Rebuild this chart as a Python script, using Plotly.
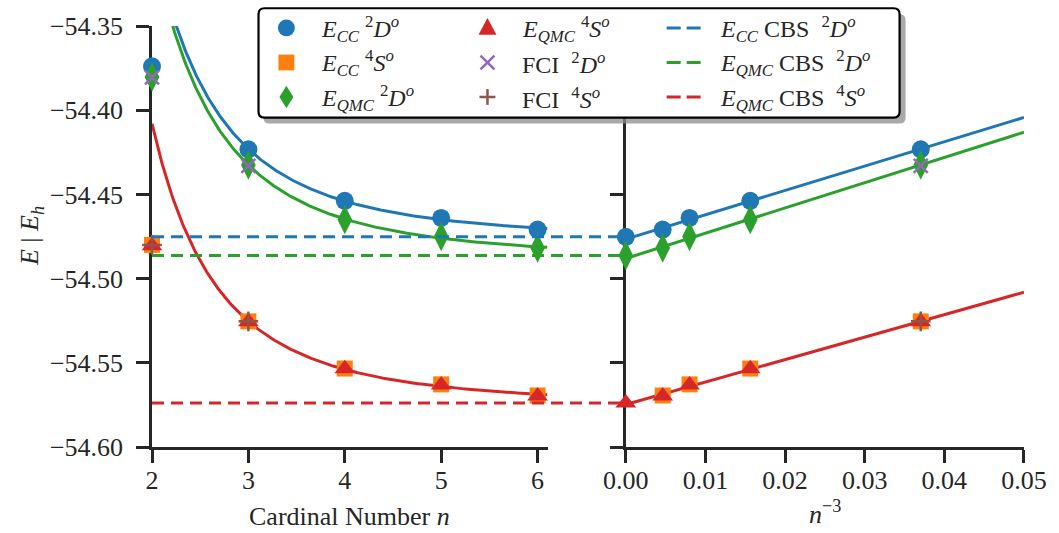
import numpy as np
import plotly.graph_objects as go

# ---------------- data ----------------
n_vals = [2, 3, 4, 5, 6]
e_cc_2d = [-54.3739, -54.4232, -54.4538, -54.4640, -54.4709]
e_cc_4s = [-54.4800, -54.5254, -54.5534, -54.5628, -54.5694]
e_qmc_2d = [-54.3803, -54.4325, -54.4650, -54.4750, -54.4818]
e_qmc_4s = [-54.4805, -54.5256, -54.5535, -54.5632, -54.5697]
fci_n = [2, 3]
fci_2d = [-54.3805, -54.4331]
fci_4s = [-54.4800, -54.5254]
cbs_cc_2d = -54.4752
cbs_qmc_2d = -54.4863
cbs_qmc_4s = -54.5738

y_tickvals = [-54.60, -54.55, -54.50, -54.45, -54.40, -54.35]
y_ticktext = ["−54.60", "−54.55", "−54.50", "−54.45", "−54.40", "−54.35"]
xl_tickvals = [2, 3, 4, 5, 6]
xr_tickvals = [0.00, 0.01, 0.02, 0.03, 0.04, 0.05]
xr_ticktext = ["0.00", "0.01", "0.02", "0.03", "0.04", "0.05"]

BLUE, ORANGE, GREEN, RED, PURPLE, BROWN = "#1f77b4", "#ff7f0e", "#2ca02c", "#d62728", "#9467bd", "#8c564b"
INK = "#262626"
FONT = "Liberation Serif"

lbl_cc_2d = "<i>E</i><sub><i>CC</i></sub> <sup>2</sup><i>D</i><sup><i>o</i></sup>"
lbl_cc_4s = "<i>E</i><sub><i>CC</i></sub> <sup>4</sup><i>S</i><sup><i>o</i></sup>"
lbl_qmc_2d = "<i>E</i><sub><i>QMC</i></sub> <sup>2</sup><i>D</i><sup><i>o</i></sup>"
lbl_qmc_4s = "<i>E</i><sub><i>QMC</i></sub> <sup>4</sup><i>S</i><sup><i>o</i></sup>"
lbl_fci_2d = "FCI  <sup>2</sup><i>D</i><sup><i>o</i></sup>"
lbl_fci_4s = "FCI  <sup>4</sup><i>S</i><sup><i>o</i></sup>"
lbl_cbs_cc_2d = "<i>E</i><sub><i>CC</i></sub> CBS  <sup>2</sup><i>D</i><sup><i>o</i></sup>"
lbl_cbs_qmc_2d = "<i>E</i><sub><i>QMC</i></sub> CBS  <sup>2</sup><i>D</i><sup><i>o</i></sup>"
lbl_cbs_qmc_4s = "<i>E</i><sub><i>QMC</i></sub> CBS  <sup>4</sup><i>S</i><sup><i>o</i></sup>"

n_arr = np.array(n_vals, dtype=float)
inv3 = n_arr ** -3.0
fci_inv3 = np.array(fci_n, dtype=float) ** -3.0

fig = go.Figure()

# -------- fit curves (E = E_CBS + A n^-3, fitted to n=3..6) --------
n_dense = np.linspace(2.0, 6.1, 300)
x_dense = np.linspace(0.0, 0.05, 60)
for series, col in [(e_cc_2d, BLUE), (e_qmc_2d, GREEN), (e_qmc_4s, RED)]:
    a, b = np.polyfit(inv3[1:], np.array(series[1:]), 1)
    fig.add_trace(go.Scatter(x=n_dense, y=b + a * n_dense ** -3.0, mode="lines",
                             line=dict(color=col, width=3), showlegend=False,
                             xaxis="x", yaxis="y", hoverinfo="skip"))
    fig.add_trace(go.Scatter(x=x_dense, y=b + a * x_dense, mode="lines",
                             line=dict(color=col, width=3), showlegend=False,
                             xaxis="x2", yaxis="y2", hoverinfo="skip"))

# -------- markers --------
def add_pts(xl, xr, y, yr, name, sym, col, size, thin=False):
    mk = dict(symbol=sym, size=size, color=col)
    mk["line"] = dict(color=col, width=2.5) if thin else dict(width=0)
    fig.add_trace(go.Scatter(x=xl, y=y, mode="markers", marker=mk, name=name,
                             showlegend=False, cliponaxis=False, xaxis="x", yaxis="y"))
    fig.add_trace(go.Scatter(x=xr, y=yr, mode="markers", marker=mk, name=name,
                             showlegend=False, cliponaxis=False, xaxis="x2", yaxis="y2"))

add_pts(n_vals, list(inv3[1:]) + [0.0], e_cc_2d, e_cc_2d[1:] + [cbs_cc_2d],
        lbl_cc_2d, "circle", BLUE, 18)
add_pts(n_vals, list(inv3[1:]), e_cc_4s, e_cc_4s[1:],
        lbl_cc_4s, "square", ORANGE, 16)
add_pts(n_vals, list(inv3[1:]) + [0.0], e_qmc_2d, e_qmc_2d[1:] + [cbs_qmc_2d],
        lbl_qmc_2d, "diamond-tall", GREEN, 21)
add_pts(n_vals, list(inv3[1:]) + [0.0], e_qmc_4s, e_qmc_4s[1:] + [cbs_qmc_4s],
        lbl_qmc_4s, "triangle-up", RED, 18)
add_pts(fci_n, list(fci_inv3[1:]), fci_2d, fci_2d[1:],
        lbl_fci_2d, "x-thin", PURPLE, 14, thin=True)
add_pts(fci_n, list(fci_inv3[1:]), fci_4s, fci_4s[1:],
        lbl_fci_4s, "cross-thin", BROWN, 14, thin=True)

# -------- layout helpers --------
L, R, T, B = 152, 31, 20, 86
W, H = 1059, 533
pw, ph = W - L - R, H - T - B
def px_x(p):
    return (p - L) / pw
def px_y(p):
    return (H - B - p) / ph

d_left = [0, px_x(550)]
d_right = [px_x(628), 1]

axis_common = dict(showline=True, linecolor=INK, linewidth=2.5, ticks="outside",
                   ticklen=13, tickwidth=2.5, tickcolor=INK, showgrid=False,
                   zeroline=False, layer="below traces",
                   tickfont=dict(family=FONT, size=26, color=INK))

shapes = []
DASH = "12px,7px"
for v, col in [(cbs_cc_2d, BLUE), (cbs_qmc_2d, GREEN), (cbs_qmc_4s, RED)]:
    shapes.append(dict(type="line", xref="paper", yref="y", x0=0, x1=d_right[0],
                       y0=v, y1=v, line=dict(color=col, width=3, dash=DASH),
                       layer="above"))

def P(points, close=True):
    s = "M " + " L ".join(f"{px_x(x):.5f},{px_y(y):.5f}" for x, y in points)
    return s + (" Z" if close else "")

def rounded(x0p, y0p, x1p, y1p, r):
    X = lambda p: f"{px_x(p):.5f}"
    Y = lambda p: f"{px_y(p):.5f}"
    return (f"M {X(x0p + r)},{Y(y0p)} L {X(x1p - r)},{Y(y0p)} Q {X(x1p)},{Y(y0p)} {X(x1p)},{Y(y0p + r)} "
            f"L {X(x1p)},{Y(y1p - r)} Q {X(x1p)},{Y(y1p)} {X(x1p - r)},{Y(y1p)} "
            f"L {X(x0p + r)},{Y(y1p)} Q {X(x0p)},{Y(y1p)} {X(x0p)},{Y(y1p - r)} "
            f"L {X(x0p)},{Y(y0p + r)} Q {X(x0p)},{Y(y0p)} {X(x0p + r)},{Y(y0p)} Z")

# legend frame with shadow
shapes.append(dict(type="path", xref="paper", yref="paper", path=rounded(264, 8, 909, 119, 6),
                   fillcolor="rgba(140,140,140,0.75)", line=dict(width=0), layer="above"))
shapes.append(dict(type="path", xref="paper", yref="paper", path=rounded(259, 2, 903, 113, 6),
                   fillcolor="white", line=dict(color="black", width=2.2), layer="above"))

# legend symbols (layout decoration)
rows = [22, 57, 92]
c1, c2 = 287, 489
def sym(kind, cx, cy, col):
    base = dict(xref="paper", yref="paper", layer="above")
    if kind == "circle":
        r = 8.5
        return [dict(type="circle", x0=px_x(cx - r), x1=px_x(cx + r), y0=px_y(cy + r), y1=px_y(cy - r),
                     fillcolor=col, line=dict(width=0), **base)]
    if kind == "square":
        r = 8
        return [dict(type="rect", x0=px_x(cx - r), x1=px_x(cx + r), y0=px_y(cy + r), y1=px_y(cy - r),
                     fillcolor=col, line=dict(width=0), **base)]
    if kind == "diamond":
        return [dict(type="path", path=P([(cx, cy - 11.5), (cx + 7, cy), (cx, cy + 11.5), (cx - 7, cy)]),
                     fillcolor=col, line=dict(width=0), **base)]
    if kind == "triangle":
        return [dict(type="path", path=P([(cx, cy - 10), (cx + 9, cy + 7), (cx - 9, cy + 7)]),
                     fillcolor=col, line=dict(width=0), **base)]
    if kind == "x":
        r = 7
        return [dict(type="line", x0=px_x(cx - r), x1=px_x(cx + r), y0=px_y(cy - r), y1=px_y(cy + r),
                     line=dict(color=col, width=2.5), **base),
                dict(type="line", x0=px_x(cx - r), x1=px_x(cx + r), y0=px_y(cy + r), y1=px_y(cy - r),
                     line=dict(color=col, width=2.5), **base)]
    if kind == "plus":
        r = 8
        return [dict(type="line", x0=px_x(cx - r), x1=px_x(cx + r), y0=px_y(cy), y1=px_y(cy),
                     line=dict(color=col, width=2.5), **base),
                dict(type="line", x0=px_x(cx), x1=px_x(cx), y0=px_y(cy - r), y1=px_y(cy + r),
                     line=dict(color=col, width=2.5), **base)]
    if kind == "dash":
        return [dict(type="line", x0=px_x(669), x1=px_x(706), y0=px_y(cy), y1=px_y(cy),
                     line=dict(color=col, width=3, dash="14px,6px"), **base)]

legend_items = [
    ("circle", c1, rows[0], BLUE, lbl_cc_2d, 320),
    ("square", c1, rows[1], ORANGE, lbl_cc_4s, 320),
    ("diamond", c1, rows[2], GREEN, lbl_qmc_2d, 320),
    ("triangle", c2, rows[0], RED, lbl_qmc_4s, 522),
    ("x", c2, rows[1], PURPLE, lbl_fci_2d, 522),
    ("plus", c2, rows[2], BROWN, lbl_fci_4s, 522),
    ("dash", 0, rows[0], BLUE, lbl_cbs_cc_2d, 721),
    ("dash", 0, rows[1], GREEN, lbl_cbs_qmc_2d, 721),
    ("dash", 0, rows[2], RED, lbl_cbs_qmc_4s, 721),
]
annotations = []
for kind, cx, cy, col, lbl, tx in legend_items:
    shapes.extend(sym(kind, cx, cy, col))
    annotations.append(dict(text=lbl, xref="paper", yref="paper", x=px_x(tx), y=px_y(cy + 1),
                            xanchor="left", yanchor="middle", showarrow=False,
                            font=dict(family=FONT, size=24, color=INK)))

annotations += [
    dict(text="<i>E</i> | <i>E</i><sub><i>h</i></sub>", xref="paper", yref="paper",
         x=px_x(30), y=0.5, textangle=-90, showarrow=False, xanchor="center", yanchor="middle",
         font=dict(family=FONT, size=26, color=INK)),
    dict(text="Cardinal Number <i>n</i>", xref="paper", yref="paper",
         x=px_x(350), y=px_y(517), showarrow=False, xanchor="center", yanchor="middle",
         font=dict(family=FONT, size=26, color=INK)),
    dict(text="<i>n</i><sup>−3</sup>", xref="paper", yref="paper",
         x=px_x(828), y=px_y(513), showarrow=False, xanchor="center", yanchor="middle",
         font=dict(family=FONT, size=26, color=INK)),
]

fig.update_layout(
    width=W, height=H, margin=dict(l=L, r=R, t=T, b=B),
    paper_bgcolor="white", plot_bgcolor="white",
    font=dict(family=FONT, color=INK),
    xaxis=dict(domain=d_left, range=[2, 6.11], tickvals=xl_tickvals,
               ticklabelstandoff=-5, anchor="y", **axis_common),
    xaxis2=dict(domain=d_right, range=[0, 0.05], tickvals=xr_tickvals, ticktext=xr_ticktext,
                ticklabelstandoff=-5, anchor="y2", **axis_common),
    yaxis=dict(range=[-54.60, -54.35], tickvals=y_tickvals, ticktext=y_ticktext,
               ticklabelstandoff=8, anchor="x", **axis_common),
    yaxis2=dict(range=[-54.60, -54.35], tickvals=y_tickvals, ticktext=y_ticktext,
                showticklabels=False, anchor="x2", matches="y", **axis_common),
    shapes=shapes,
    showlegend=False,
    annotations=annotations,
)

fig.write_html("out.html")
